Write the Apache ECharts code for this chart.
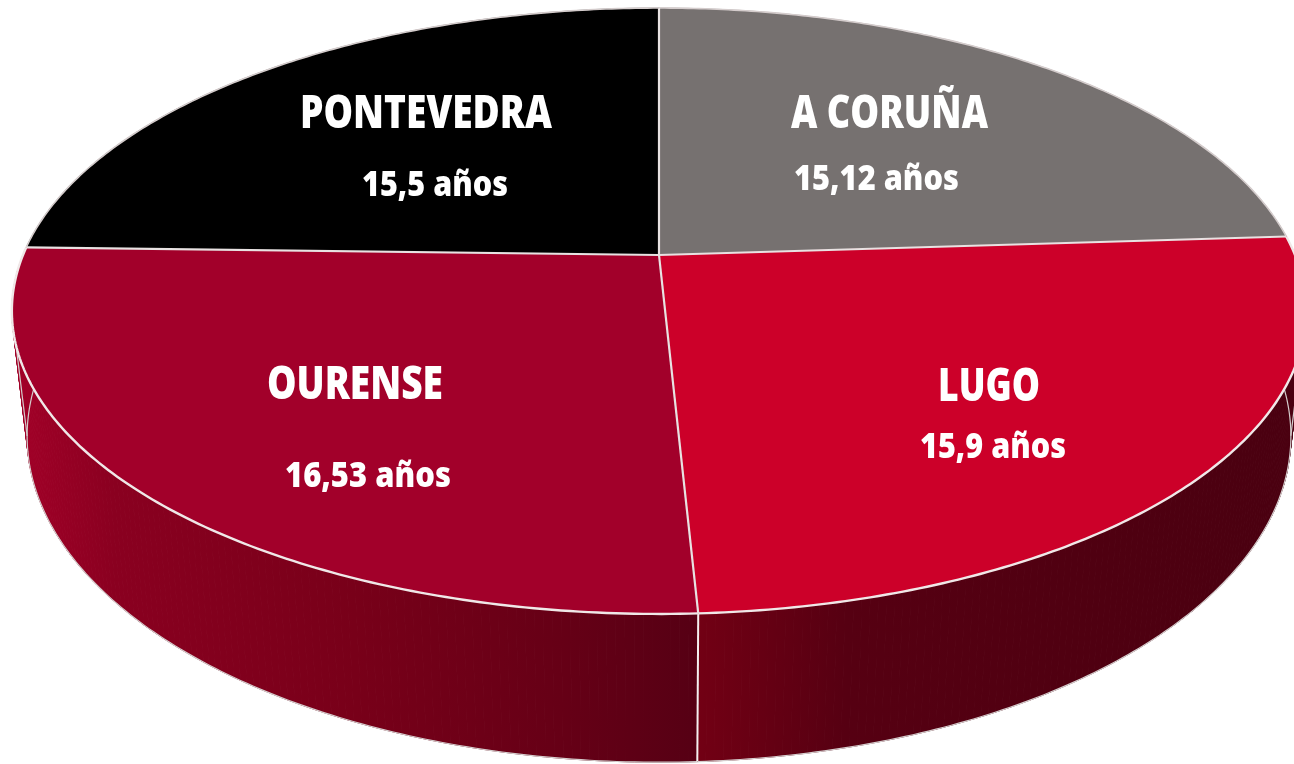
<!DOCTYPE html>
<html><head><meta charset="utf-8">
<style>html,body{margin:0;padding:0;background:#fff}#c{width:1294px;height:764px}</style>
<script src="https://cdn.jsdelivr.net/npm/echarts@6/dist/echarts.min.js"></script></head>
<body><div id="c"></div>
<script>
// Data
const provinces = ['A CORUÑA', 'LUGO', 'OURENSE', 'PONTEVEDRA'];
const years = [15.12, 15.9, 16.53, 15.5];
const yearLabels = ['15,12 años', '15,9 años', '16,53 años', '15,5 años'];

// Styles and layout
const topColors = ['#767170', '#cc0029', '#a2002a', '#000000'];
const sideColors = [null,
  [[0, '#720014'], [0.25, '#560012'], [1, '#4a0010']],
  [[0, '#a30028'], [0.15, '#8a0020'], [0.5, '#780019'], [0.8, '#660016'], [1, '#560014']],
  null];
const sideSpan = [null, [698, 1294], [12, 698], null];
const nameAt = [[889.5, 115], [989, 388], [355, 386], [426, 115]];
const valueAt = [[876.5, 180], [993, 448], [368, 477], [435, 186]];
const nameWidth = [197, 102, 176, 252];
const valueWidth = [165, 146, 166, 146];
const total = years.reduce((a, b) => a + b, 0);
const persp = -0.1848;
const topFace = { cx: 659, cy: 255, a: 636, b: 292.6 };
const lowFace = { cx: 659, cy: 375.8, a: 621, b: 315 };
const FONT = '"Open Sans",sans-serif';
const NAME_FONT = '800 46px ' + FONT, VALUE_FONT = '800 35px ' + FONT;

const meter = document.createElement('canvas').getContext('2d');
function fitScale(text, font, target) {
  meter.font = font;
  return target / meter.measureText(text).width;
}
function project(face, turn) {
  const t = turn * 2 * Math.PI, u = Math.sin(t), v = -Math.cos(t), d = 1 + persp * v;
  return [face.cx + face.a * u / d, face.cy + face.b * v / d];
}
function arc(face, s, e) {
  const n = 140, pts = [];
  for (let i = 0; i <= n; i++) pts.push(project(face, s + (e - s) * i / n));
  return pts;
}
function range(i) {
  let before = 0;
  for (let k = 0; k < i; k++) before += years[k];
  return [before / total, (before + years[i]) / total];
}
const rows = years.map((v, i) => ({ name: provinces[i], value: v }));

function renderSide(p) {
  const i = p.dataIndex;
  if (!sideColors[i]) return { type: 'group', children: [] };
  const [s, e] = range(i);
  const up = arc(topFace, s, e), low = arc(lowFace, s, e);
  const span = sideSpan[i];
  const fill = { type: 'linear', x: span[0], y: 0, x2: span[1], y2: 0, global: true,
    colorStops: sideColors[i].map(c => ({ offset: c[0], color: c[1] })) };
  const kids = [];
  for (let k = 0; k < up.length - 1; k++) {
    kids.push({ type: 'polygon', shape: { points: [up[k], up[k + 1], low[k + 1], low[k]] },
      style: { fill: fill, stroke: fill, lineWidth: 1 } });
  }
  kids.push({ type: 'polyline', shape: { points: low }, style: { fill: null, stroke: '#d4cccc', lineWidth: 1.2 } });
  // outer tangent edge joining the two rims
  let edge = 0;
  up.forEach((q, k) => { if (Math.abs(q[0] - topFace.cx) > Math.abs(up[edge][0] - topFace.cx)) edge = k; });
  kids.push({ type: 'line', shape: { x1: up[edge][0], y1: up[edge][1], x2: low[edge][0], y2: low[edge][1] },
    style: { stroke: '#d4cccc', lineWidth: 1.2 } });
  return { type: 'group', children: kids };
}
function renderDivider(p) {
  const [s, e] = range(p.dataIndex);
  if (p.dataIndex !== 1) return { type: 'group', children: [] };
  const a = project(topFace, e), b = project(lowFace, e);
  return { type: 'line', shape: { x1: a[0], y1: a[1], x2: b[0], y2: b[1] },
    style: { stroke: '#f4f0f0', lineWidth: 2 } };
}
function renderTop(p) {
  const i = p.dataIndex;
  const [s, e] = range(i);
  const pts = [[topFace.cx, topFace.cy]].concat(arc(topFace, s, e));
  return { type: 'polygon', shape: { points: pts },
    style: { fill: topColors[i], stroke: topColors[i], lineWidth: 0.5 } };
}
function renderLines(p) {
  const i = p.dataIndex;
  const [s, e] = range(i);
  const o = project(topFace, s);
  const front = !!sideColors[i];
  return { type: 'group', children: [
    { type: 'polyline', shape: { points: arc(topFace, s, e) },
      style: { fill: null, stroke: front ? '#f0e8e8' : '#d4cccc', lineWidth: front ? 2.4 : 1.6 } },
    { type: 'line', shape: { x1: topFace.cx, y1: topFace.cy, x2: o[0], y2: o[1] },
      style: { stroke: '#e8e2e2', lineWidth: 2.2 } }
  ] };
}
function renderLabels(p) {
  const i = p.dataIndex;
  return { type: 'group', children: [
    { type: 'text', x: nameAt[i][0], y: nameAt[i][1], scaleX: fitScale(provinces[i], NAME_FONT, nameWidth[i]),
      style: { text: provinces[i], fill: '#fff', font: NAME_FONT, textAlign: 'center', textVerticalAlign: 'middle' } },
    { type: 'text', x: valueAt[i][0], y: valueAt[i][1], scaleX: fitScale(yearLabels[i], VALUE_FONT, valueWidth[i]),
      style: { text: yearLabels[i], fill: '#fff', font: VALUE_FONT, textAlign: 'center', textVerticalAlign: 'middle' } }
  ] };
}
const chart = echarts.init(document.getElementById('c'), null, { renderer: 'canvas', width: 1294, height: 764 });
const layer = (fn, z) => ({ type: 'custom', coordinateSystem: 'none', data: rows, renderItem: fn, silent: true, z: z });
chart.setOption({
  backgroundColor: '#ffffff',
  animation: false,
  series: [layer(renderSide, 1), layer(renderDivider, 2), layer(renderTop, 3), layer(renderLines, 4), layer(renderLabels, 5)]
});
</script></body></html>
